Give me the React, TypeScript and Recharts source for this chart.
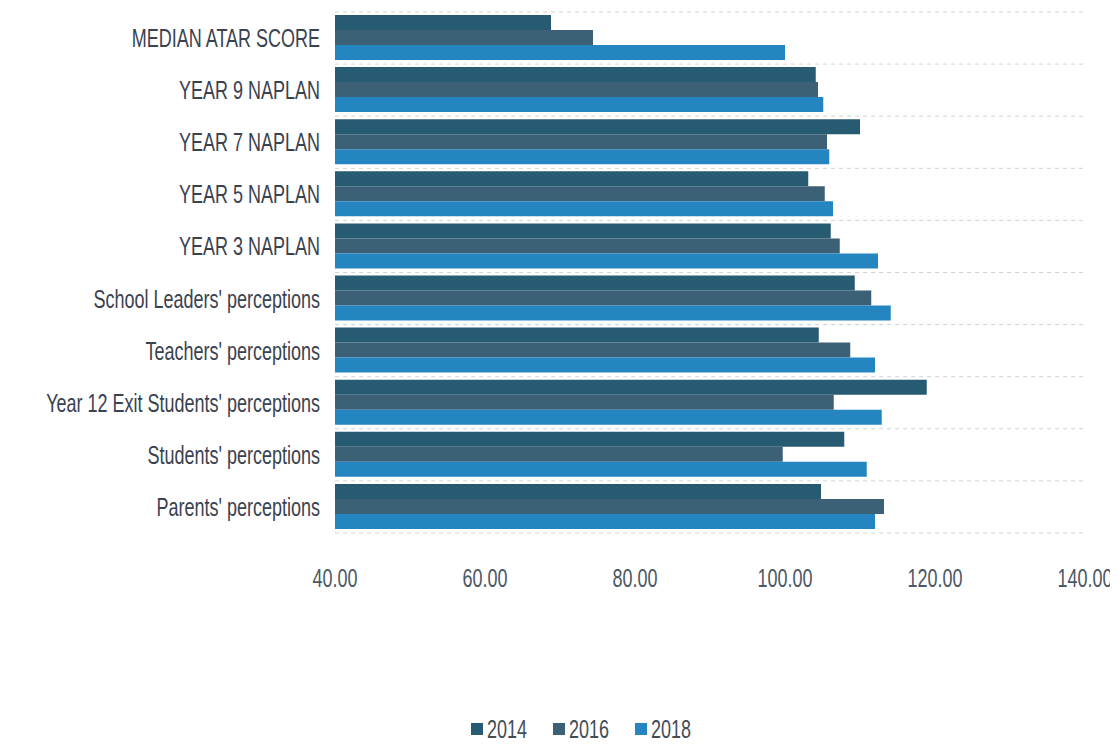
import {
  BarChart,
  Bar,
  XAxis,
  YAxis,
  CartesianGrid,
  Legend,
} from "recharts";

const categories: string[] = [
  "MEDIAN ATAR SCORE",
  "YEAR 9 NAPLAN",
  "YEAR 7 NAPLAN",
  "YEAR 5 NAPLAN",
  "YEAR 3 NAPLAN",
  "School Leaders' perceptions",
  "Teachers' perceptions",
  "Year 12 Exit Students' perceptions",
  "Students' perceptions",
  "Parents' perceptions",
];

const values2014: number[] = [68.8, 104.1, 110.0, 103.1, 106.1, 109.3, 104.5, 118.9, 107.9, 104.8];
const values2016: number[] = [74.4, 104.4, 105.6, 105.3, 107.3, 111.5, 108.7, 106.5, 99.7, 113.2];
const values2018: number[] = [100.0, 105.1, 105.9, 106.4, 112.4, 114.1, 112.0, 112.9, 110.9, 112.0];

const xTicks: number[] = [40, 60, 80, 100, 120, 140];

const seriesInfo = [
  { key: "y2014", name: "2014", color: "#275b72" },
  { key: "y2016", name: "2016", color: "#3c6176" },
  { key: "y2018", name: "2018", color: "#2585c1" },
];

const FONT = "'Liberation Sans', Arial, sans-serif";
const FONT_SIZE = 25;
const SQUEEZE = 0.72; // the original face is a tall condensed one

const data = categories.map((name, i) => ({
  name,
  y2014: values2014[i],
  y2016: values2016[i],
  y2018: values2018[i],
}));

// grid lines sit on the band edges, not on the category centres
const bandEdges = ({ offset }: any) => {
  const n = categories.length;
  const lines: number[] = [];
  for (let i = 0; i <= n; i++) {
    lines.push(offset.top + (i * offset.height) / n);
  }
  return lines;
};

const NarrowText = ({ x, y, text, anchor, fill, dy }: any) => (
  <g transform={`translate(${x},${y}) scale(${SQUEEZE},1)`}>
    <text
      x={0}
      y={0}
      dy={dy}
      textAnchor={anchor}
      fill={fill}
      fontSize={FONT_SIZE}
      fontFamily={FONT}
    >
      {text}
    </text>
  </g>
);

const CategoryTick = ({ x, y, payload }: any) => (
  <NarrowText x={x} y={y} text={payload.value} anchor="end" fill="#3a4250" dy="0.36em" />
);

const ValueTick = ({ x, y, payload }: any) => (
  <NarrowText
    x={x}
    y={y}
    text={Number(payload.value).toFixed(2)}
    anchor="middle"
    fill="#4d5865"
    dy="0.71em"
  />
);

const LegendContent = () => (
  <svg width={300} height={29} style={{ overflow: "visible", display: "block" }}>
    {seriesInfo.map((s, i) => (
      <g key={s.key}>
        <rect x={i * 82} y={8} width={12} height={12} fill={s.color} />
        <NarrowText x={i * 82 + 16} y={14} text={s.name} anchor="start" fill="#444c56" dy="0.36em" />
      </g>
    ))}
  </svg>
);

const App = () => {
  return (
    <div>
      <BarChart
        width={1110}
        height={736}
        data={data}
        layout="vertical"
        margin={{ top: 4, right: 33, left: 0, bottom: 0 }}
        barCategoryGap={3}
        barGap={0}
      >
        <CartesianGrid
          vertical={false}
          stroke="#cfd3d6"
          strokeDasharray="4 4"
          horizontalCoordinatesGenerator={bandEdges}
        />
        <XAxis
          type="number"
          domain={[40, 140]}
          ticks={xTicks}
          height={211}
          axisLine={false}
          tickLine={false}
          tickSize={0}
          tickMargin={36}
          tick={<ValueTick />}
        />
        <YAxis
          type="category"
          dataKey="name"
          width={327}
          axisLine={false}
          tickLine={false}
          tickSize={0}
          tickMargin={15}
          interval={0}
          tick={<CategoryTick />}
        />
        <Legend
          verticalAlign="middle"
          content={<LegendContent />}
          wrapperStyle={{ top: 707, left: 463, width: 300 }}
        />
        {seriesInfo.map((s) => (
          <Bar
            key={s.key}
            dataKey={s.key}
            name={s.name}
            fill={s.color}
            isAnimationActive={false}
          />
        ))}
      </BarChart>
    </div>
  );
};

export default App;
